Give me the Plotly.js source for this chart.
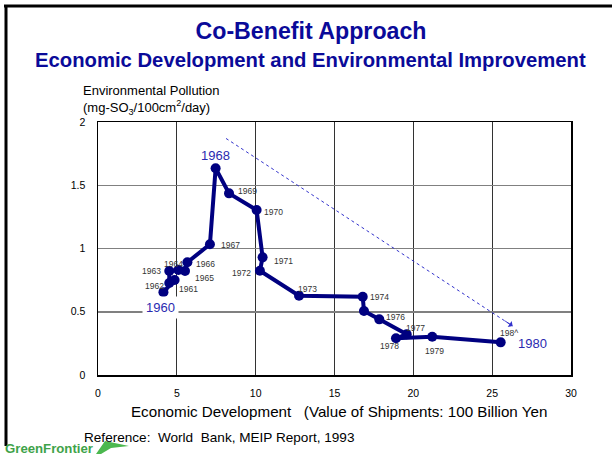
<!DOCTYPE html>
<html>
<head>
<meta charset="utf-8">
<script src="https://cdn.plot.ly/plotly-3.0.1.min.js"></script>
<style>html,body{margin:0;padding:0;background:#fff;}#chart{width:612px;height:461px;}</style>
</head>
<body>
<div id="chart"></div>
<script>
// ---- data ----
const years = [1960,1961,1962,1963,1964,1965,1966,1967,1968,1969,1970,1971,1972,1973,1974,1975,1976,1977,1978,1979,1980];
const shipments = [4.15,4.86,4.52,4.52,5.1,5.52,5.67,7.10,7.46,8.31,10.06,10.44,10.27,12.75,16.79,16.87,17.84,19.58,18.9,21.2,25.54];
const pollution = [0.655,0.751,0.727,0.822,0.83,0.822,0.891,1.033,1.634,1.436,1.304,0.93,0.824,0.627,0.619,0.506,0.44,0.322,0.29,0.302,0.258];
const smallLabels = ["","1961","1962","1963","1964","1965","1966","1967","","1969","1970","1971","1972","1973","1974","","1976","1977","1978","1979","198^"];
const bigLabels = {"1960":"1960","1968":"1968","1980":"1980"};
const trendX = [8.12, 26.3];
const trendY = [1.87, 0.387];
const xTicks = [0,5,10,15,20,25,30];
const yTicks = [0,0.5,1,1.5,2];

const FONT = 'Liberation Sans, Arial, sans-serif';
// font size that makes a text span a given pixel width
function fit(text, width, bold){
  const c = document.createElement('canvas').getContext('2d');
  c.font = (bold?'bold ':'') + '100px "Liberation Sans", Arial, sans-serif';
  const w = c.measureText(text.replace(/\u00a0/g,' ')).width;
  return 100*width/w;
}

// ---- styles / offsets (pixels) ----
const smallOff = {
  1961:[2,-9,'left'],1962:[-3,-3,'right'],1963:[-6,0,'right'],1964:[-16,6,'left'],
  1965:[8,-7,'left'],1966:[6.5,-2,'left'],1967:[9,-1,'left'],1969:[7,2,'left'],
  1970:[5.5,-2,'left'],1971:[9,-4,'left'],1972:[-7,-2,'right'],1973:[-3,7,'left'],
  1974:[5,0,'left'],1976:[5,2,'left'],1977:[-3,6,'left'],1978:[-18,-8,'left'],
  1979:[-9,-14,'left'],1980:[-3,9,'left']
};
const bigOff = {1960:[-3,-15],1968:[0,13],1980:[32,-1]};

const L=98, T=122, W=473, H=253;
function P(px,py){return {x:(px-L)/W, y:(375-py)/H};}

const annotations = [];
years.forEach((yr,i)=>{
  const t = smallLabels[i];
  if(t && smallOff[yr]){
    const o = smallOff[yr];
    annotations.push({x:shipments[i], y:pollution[i], xref:'x', yref:'y', text:t, showarrow:false,
      xanchor:o[2], yanchor:'middle', xshift:o[0], yshift:o[1],
      font:{family:FONT, size:8.5, color:'#333'}});
  }
  if(bigLabels[yr]){
    const o = bigOff[yr];
    annotations.push({x:shipments[i], y:pollution[i], xref:'x', yref:'y', text:bigLabels[yr], showarrow:false,
      xanchor:'center', yanchor:'middle', xshift:o[0], yshift:o[1],
      bgcolor: yr===1960 ? '#ffffff' : 'rgba(0,0,0,0)', borderpad: yr===1960 ? 3 : 0,
      font:{family:FONT, size:13, color:'#2a2ab0'}});
  }
});
// arrowhead of trend line
annotations.push({x:trendX[1], y:trendY[1], xref:'x', yref:'y', text:'', showarrow:true,
  ax:-9, ay:-6, arrowhead:1, arrowsize:1.2, arrowwidth:1, arrowcolor:'#3333cc'});

function txt(px,py,text,size,opts){
  const p=P(px,py);
  return Object.assign({x:p.x,y:p.y,xref:'paper',yref:'paper',text:text,showarrow:false,
    font:{family:FONT,size:size,color:'#000'}},opts||{});
}
const subT = 'Economic Development and Environmental Improvement';
annotations.push(txt(310,60,'<b>'+subT+'</b>',0,
  {xanchor:'center',yanchor:'middle',font:{family:FONT,size:fit(subT,551,true),color:'#0a0a99'}}));
annotations.push(txt(81,81,'Environmental Pollution<br>(mg-SO<sub>3</sub>/100cm<sup>2</sup>/day)',13,
  {xanchor:'left',yanchor:'top',align:'left'}));
const xT = 'Economic Development \u00a0 (Value of Shipments: 100 Billion Yen';
annotations.push(txt(129,411,xT,fit(xT,417,false),{xanchor:'left',yanchor:'middle'}));
const refT = 'Reference: \u00a0World \u00a0Bank, MEIP Report, 1993';
annotations.push(txt(82,437,refT,fit(refT,271,false),{xanchor:'left',yanchor:'middle'}));
annotations.push(txt(3,448,'<b>GreenFrontier</b>',0,
  {xanchor:'left',yanchor:'middle',font:{family:FONT,size:fit('GreenFrontier',88,true),color:'#3fa34a'}}));

function pathFrom(pts){return 'M'+pts.map(p=>{const q=P(p[0],p[1]);return q.x+','+q.y;}).join(' L')+' Z';}
const shapes = [
  {type:'line',xref:'paper',yref:'paper',x0:P(4,6).x,y0:P(4,6).y,x1:P(612,6).x,y1:P(612,6).y,line:{color:'#000',width:3}},
  {type:'line',xref:'paper',yref:'paper',x0:P(6,5).x,y0:P(6,5).y,x1:P(6,446).x,y1:P(6,446).y,line:{color:'#000',width:3}},
  {type:'path',xref:'paper',yref:'paper',path:pathFrom([[96,454],[105,441],[129,446],[111,448],[101,454]]),
   fillcolor:'#4cb84f',line:{width:0}}
];

const traces = [
  {x:trendX, y:trendY, mode:'lines', line:{color:'#3333cc', width:1, dash:'dot'}, hoverinfo:'skip'},
  {x:shipments, y:pollution, mode:'lines+markers', line:{color:'#000080', width:4},
   marker:{color:'#000080', size:10}}
];

const mainT = 'Co-Benefit Approach';
const layout = {
  width:612, height:461,
  margin:{l:L, r:612-L-W, t:T, b:461-T-H, pad:0},
  paper_bgcolor:'#fff', plot_bgcolor:'#fff',
  showlegend:false,
  title:{text:'<b>'+mainT+'</b>', x:311/612, xref:'container', xanchor:'center', y:1-31/461, yanchor:'middle',
    font:{family:FONT, size:fit(mainT,232,true), color:'#0a0a99'}},
  xaxis:{range:[0,30], tickvals:xTicks, ticktext:xTicks.map(String), showgrid:true, gridcolor:'#333', gridwidth:1,
    zeroline:false, showline:true, linecolor:'#000', linewidth:1.5, mirror:true, ticks:'', ticklabelstandoff:8,
    tickfont:{family:FONT, size:10.5, color:'#000'}},
  yaxis:{range:[0,2], tickvals:yTicks, ticktext:yTicks.map(String), showgrid:true, gridcolor:'#808080', gridwidth:1.5,
    zeroline:false, showline:true, linecolor:'#000', linewidth:1.5, mirror:true, ticks:'', ticklabelstandoff:9,
    tickfont:{family:FONT, size:10.5, color:'#000'}},
  annotations:annotations,
  shapes:shapes
};
Plotly.newPlot('chart', traces, layout, {displayModeBar:false, staticPlot:true});
</script>
</body>
</html>
